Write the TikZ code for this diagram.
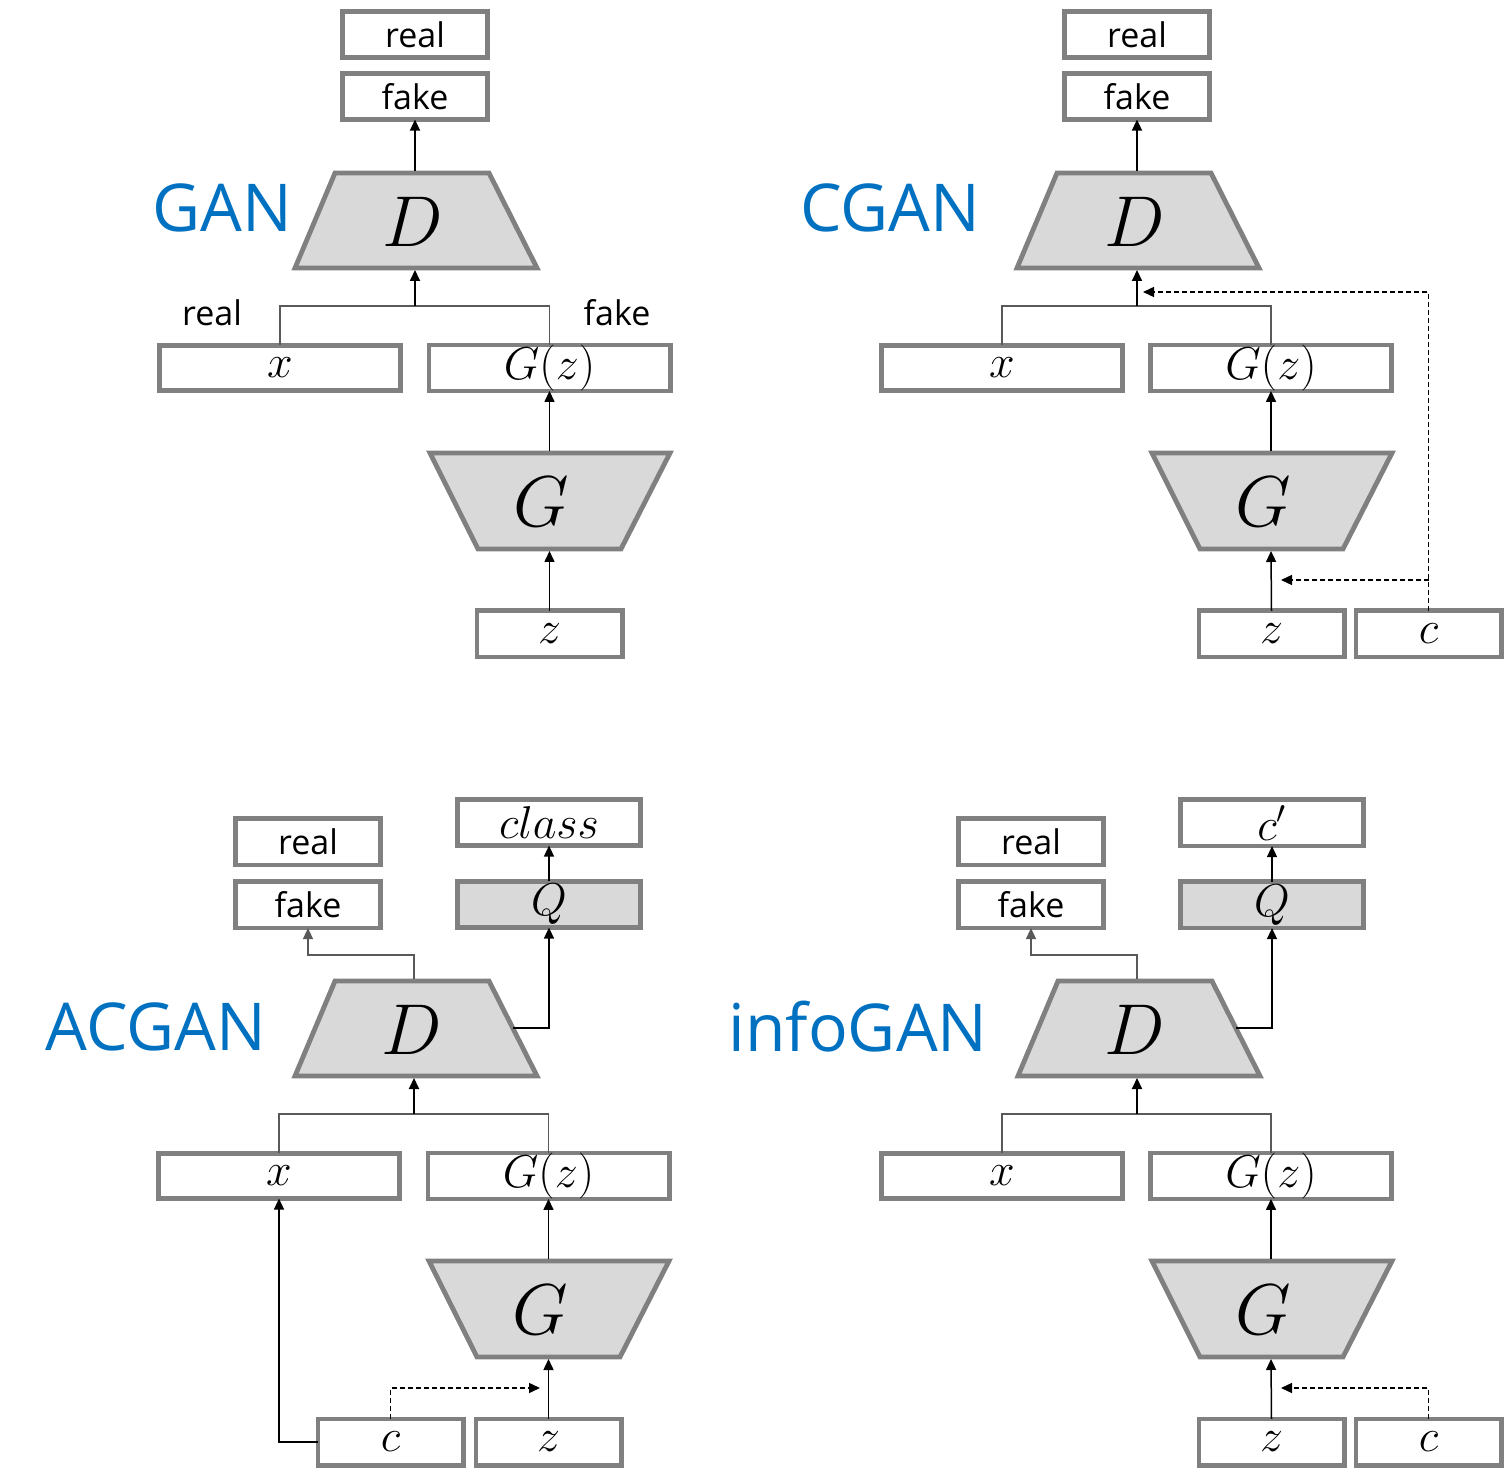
\documentclass[tikz,border=0pt]{standalone}
\usepackage{fix-cm}
\usepackage{fontspec}
\setmainfont{Open Sans}
\usetikzlibrary{arrows.meta}
\definecolor{boxgray}{HTML}{808080}
\definecolor{fillgray}{HTML}{D9D9D9}
\definecolor{titleblue}{HTML}{0070C0}
\begin{document}
\begin{tikzpicture}[x=0.5pt,y=-0.5pt,
  every node/.style={inner sep=0pt,outer sep=0pt},
  boxbase/.style={draw=boxgray,line width=2.4pt,fill=white,font=\fontsize{17}{20}\selectfont},
  sbox/.style={boxbase,minimum width=72.6pt,minimum height=23.1pt},
  wbox/.style={boxbase,minimum width=120.6pt,minimum height=22.6pt},
  qbox/.style={boxbase,minimum width=91.6pt,minimum height=23.1pt},
  mathbox/.style={font=\fontsize{23}{27}\selectfont},
  trap/.style={draw=boxgray,line width=2.4pt,fill=fillgray,line join=miter},
  bigletter/.style={font=\fontsize{36}{42}\selectfont},
  titletext/.style={text=titleblue,font=\fontsize{33}{38}\selectfont},
  lbl/.style={font=\fontsize{17}{20}\selectfont},
  arr/.style={line width=0.75pt,-{Triangle[length=5.5pt,width=5pt]}},
  arrthick/.style={line width=1pt,-{Triangle[length=5.5pt,width=5pt]}},
  conn/.style={line width=0.75pt,draw=black!65},
  dasharr/.style={line width=0.75pt,dash pattern=on 2.5pt off 1.5pt,-{Triangle[length=5.5pt,width=5pt]}}
]
\useasboundingbox (0,0) rectangle (1506,1470);

% ================= GAN =================
\node[sbox] (g-real) at (415,34.5) {real};
\node[sbox] (g-fake) at (415,96.5) {fake};
\draw[trap] (335,173) -- (489,173) -- (537,268) -- (295,268) -- cycle;
\node[bigletter] (g-D) at (413,222) {$D$};
\coordinate (g-Dt) at (415,171);
\coordinate (g-Db) at (415,270);
\draw[arr] (g-Dt) -- (g-fake.south);
\node[titletext] (g-title) at (222,208) {GAN};
\node[wbox,mathbox] (g-x) at (280,368) {$x$};
\node[wbox,mathbox] (g-Gz) at (549.5,368) {$G(z)$};
\coordinate (g-j) at (415,306);
\draw[conn] (g-x.north) |- (g-j) -| (g-Gz.north);
\draw[arrthick] (g-j) -- (g-Db);
\node[lbl] (g-lr) at (212,313) {real};
\node[lbl] (g-lf) at (617,313) {fake};
\draw[trap] (430,453) -- (670,453) -- (621,549) -- (478,549) -- cycle;
\node[bigletter] (g-G) at (541,502) {$G$};
\coordinate (g-Gt) at (549.5,451);
\coordinate (g-Gb) at (549.5,551);
\draw[arr] (g-Gt) -- (g-Gz.south);
\node[sbox,mathbox] (g-z) at (549.5,634) {$z$};
\draw[arr] (g-z.north) -- (g-Gb);

% ================= CGAN =================
\begin{scope}[shift={(722,0)}]
\node[sbox] (c-real) at (415,34.5) {real};
\node[sbox] (c-fake) at (415,96.5) {fake};
\draw[trap] (335,173) -- (489,173) -- (537,268) -- (295,268) -- cycle;
\node[bigletter] (c-D) at (413,222) {$D$};
\coordinate (c-Dt) at (415,171);
\coordinate (c-Db) at (415,270);
\draw[arr] (c-Dt) -- (c-fake.south);
\node[titletext] (c-title) at (168,208) {CGAN};
\node[wbox,mathbox] (c-x) at (280,368) {$x$};
\node[wbox,mathbox] (c-Gz) at (549,368) {$G(z)$};
\coordinate (c-j) at (415,306);
\draw[conn] (c-x.north) |- (c-j) -| (c-Gz.north);
\draw[arrthick] (c-j) -- (c-Db);
\draw[trap] (430,453) -- (670,453) -- (621,549) -- (478,549) -- cycle;
\node[bigletter] (c-G) at (541,502) {$G$};
\coordinate (c-Gt) at (549,451);
\coordinate (c-Gb) at (549,551);
\draw[arr] (c-Gt) -- (c-Gz.south);
\node[sbox,mathbox] (c-z) at (549.5,634) {$z$};
\node[sbox,mathbox] (c-c) at (706.5,634) {$c$};
\draw[arr] (c-z.north) -- (c-Gb);
\coordinate (c-d1) at (421,292);
\draw[dasharr] (c-c.north) |- (c-d1);
\coordinate (c-d2s) at (706.5,580);
\coordinate (c-d2) at (559,580);
\draw[dasharr] (c-d2s) -- (c-d2);
\end{scope}

% ================= ACGAN =================
\begin{scope}[shift={(0,808)}]
\node[sbox] (a-real) at (308,34) {real};
\node[sbox] (a-fake) at (308,97) {fake};
\node[qbox,mathbox] (a-class) at (549,14.5) {$class$};
\node[qbox,mathbox,fill=fillgray] (a-Q) at (549,96.5) {$Q$};
\draw[trap] (335,173) -- (489,173) -- (537,268) -- (295,268) -- cycle;
\node[bigletter] (a-D) at (412,222) {$D$};
\coordinate (a-Dt) at (414,171);
\coordinate (a-Db) at (414,270);
\coordinate (a-k1) at (414,147);
\draw[conn,arr,draw=black!65] (a-Dt) -- (a-k1) -| (a-fake.south);
\coordinate (a-Dr) at (513,220);
\draw[arr] (a-Dr) -| (a-Q.south);
\draw[arr] (a-Q.north) -- (a-class.south);
\node[titletext] (a-title) at (156,219) {ACGAN};
\node[wbox,mathbox] (a-x) at (279,368) {$x$};
\node[wbox,mathbox] (a-Gz) at (548.5,368) {$G(z)$};
\coordinate (a-j) at (414,306);
\draw[conn] (a-x.north) |- (a-j) -| (a-Gz.north);
\draw[arrthick] (a-j) -- (a-Db);
\draw[trap] (429,453) -- (669,453) -- (620,549) -- (477,549) -- cycle;
\node[bigletter] (a-G) at (540,502) {$G$};
\coordinate (a-Gt) at (548.5,451);
\coordinate (a-Gb) at (548.5,551);
\draw[arr] (a-Gt) -- (a-Gz.south);
\node[sbox,mathbox] (a-c) at (390.5,634) {$c$};
\node[sbox,mathbox] (a-z) at (548.5,634) {$z$};
\draw[arr] (a-z.north) -- (a-Gb);
\draw[arr] (a-c.west) -| (a-x.south);
\coordinate (a-d) at (540,580);
\draw[dasharr] (a-c.north) |- (a-d);
\end{scope}

% ================= infoGAN =================
\begin{scope}[shift={(722,808)}]
\node[sbox] (i-real) at (309,34) {real};
\node[sbox] (i-fake) at (309,97) {fake};
\node[qbox,mathbox] (i-cp) at (550,15) {$c'$};
\node[qbox,mathbox,fill=fillgray] (i-Q) at (550,97) {$Q$};
\draw[trap] (336,173) -- (490,173) -- (538,268) -- (296,268) -- cycle;
\node[bigletter] (i-D) at (413,222) {$D$};
\coordinate (i-Dt) at (415,171);
\coordinate (i-Db) at (415,270);
\coordinate (i-k1) at (415,147);
\draw[conn,arr,draw=black!65] (i-Dt) -- (i-k1) -| (i-fake.south);
\coordinate (i-Dr) at (514,220);
\draw[arr] (i-Dr) -| (i-Q.south);
\draw[arr] (i-Q.north) -- (i-cp.south);
\node[titletext] (i-title) at (136,219) {infoGAN};
\node[wbox,mathbox] (i-x) at (280,368) {$x$};
\node[wbox,mathbox] (i-Gz) at (549,368) {$G(z)$};
\coordinate (i-j) at (415,306);
\draw[conn] (i-x.north) |- (i-j) -| (i-Gz.north);
\draw[arrthick] (i-j) -- (i-Db);
\draw[trap] (430,453) -- (670,453) -- (621,549) -- (478,549) -- cycle;
\node[bigletter] (i-G) at (541,502) {$G$};
\coordinate (i-Gt) at (549,451);
\coordinate (i-Gb) at (549,551);
\draw[arr] (i-Gt) -- (i-Gz.south);
\node[sbox,mathbox] (i-z) at (549.5,634) {$z$};
\node[sbox,mathbox] (i-c) at (706.5,634) {$c$};
\draw[arr] (i-z.north) -- (i-Gb);
\coordinate (i-d) at (559,580);
\draw[dasharr] (i-c.north) |- (i-d);
\end{scope}
\end{tikzpicture}
\end{document}
